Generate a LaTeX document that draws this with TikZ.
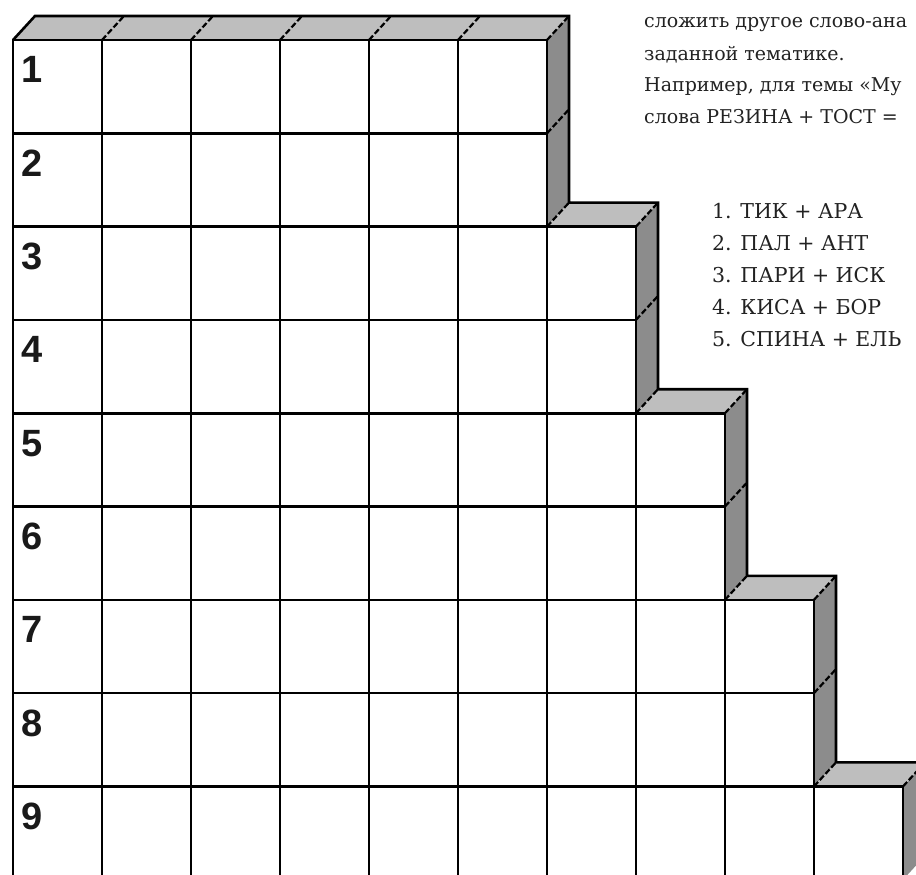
\documentclass[tikz,border=0pt]{standalone}
\usepackage{fontspec}
\setmainfont{DejaVu Serif}
\newfontfamily\digitfont{Liberation Sans}
\definecolor{sideC}{HTML}{8C8C8C}
\definecolor{topC}{HTML}{BEBEBE}
\definecolor{inkC}{HTML}{222222}
\tikzset{
  cellbox/.style={fill=white, draw=black, line width=2.6pt},
  sideface/.style={fill=sideC},
  topface/.style={fill=topC},
  dashedge/.style={draw=black, line width=2.2pt, dash pattern=on 6pt off 2.5pt},
  outline/.style={draw=black, line width=2.6pt, line join=miter},
  rownum/.style={font=\digitfont\bfseries\fontsize{38}{38}\selectfont, anchor=base west, inner sep=0pt, text=black!90},
  txt/.style={font=\fontsize{20.5}{20.5}\selectfont, anchor=base west, inner sep=0pt, text=inkC},
  toptxt/.style={font=\fontsize{19}{19}\selectfont, anchor=base west, inner sep=0pt, text=inkC},
}
\begin{document}
\begin{tikzpicture}[x=1pt,y=-1pt]
\useasboundingbox (0,0) rectangle (916,875);
\fill[white] (0,0) rectangle (916,875);
\clip (0,0) rectangle (916,875);

% side faces
\foreach \j/\n in {0/6,1/6,2/7,3/7,4/8,5/8,6/9,7/9,8/10}{
  \pgfmathsetmacro{\yT}{40+93.3*\j}
  \pgfmathsetmacro{\xR}{13+89*\n}
  \fill[sideface] (\xR,\yT) -- ++(22,-24) -- ++(0,93.3) -- ++(-22,24) -- cycle;
}
% top faces
\foreach \c in {0,...,5}{
  \fill[topface] ({13+89*\c},40) -- ++(22,-24) -- ++(89,0) -- ++(-22,24) -- cycle;
}
\foreach \j/\c in {2/6,4/7,6/8,8/9}{
  \pgfmathsetmacro{\yT}{40+93.3*\j}
  \fill[topface] ({13+89*\c},\yT) -- ++(22,-24) -- ++(89,0) -- ++(-22,24) -- cycle;
}
% dashed diagonal edges
\foreach \c in {1,...,6}{
  \draw[dashedge] ({13+89*\c},40) -- ++(22,-24);
}
\foreach \j/\c in {2/6,4/7,6/8,8/9}{
  \pgfmathsetmacro{\yT}{40+93.3*\j}
  \draw[dashedge] ({13+89*(\c+1)},\yT) -- ++(22,-24);
}
\foreach \j/\n in {0/6,1/6,2/7,3/7,4/8,5/8,6/9,7/9}{
  \pgfmathsetmacro{\yB}{40+93.3*(\j+1)}
  \pgfmathsetmacro{\xR}{13+89*\n}
  \draw[dashedge] (\xR,\yB) -- ++(22,-24);
}
% silhouette
\draw[outline] (13,40) -- (35,16) -- (569,16) -- (569,202.6) -- (658,202.6)
  -- (658,389.2) -- (747,389.2) -- (747,575.8) -- (836,575.8) -- (836,762.4)
  -- (925,762.4) -- (925,960);

% front cells
\foreach \j/\n in {0/6,1/6,2/7,3/7,4/8,5/8,6/9,7/9,8/10}{
  \pgfmathsetmacro{\yT}{40+93.3*\j}
  \foreach \c in {1,...,\n}{
    \draw[cellbox] ({13+89*(\c-1)},\yT) rectangle ++(89,93.3);
  }
}
% row numbers
\foreach \j in {1,...,9}{
  \pgfmathsetmacro{\yN}{40+93.3*(\j-1)+43}
  \node[rownum] (num\j) at (21,\yN) {\j};
}

% text
\node[toptxt] (t1) at (644,28) {сложить другое слово-ана};
\node[toptxt] (t2) at (644,60) {заданной тематике.};
\node[toptxt] (t3) at (644,92) {Например, для темы «Му};
\node[toptxt] (t4) at (644,124) {слова РЕЗИНА + ТОСТ =};

\node[txt] (l1) at (712,218) {1. ТИК + АРА};
\node[txt] (l2) at (712,250) {2. ПАЛ + АНТ};
\node[txt] (l3) at (712,282) {3. ПАРИ + ИСК};
\node[txt] (l4) at (712,314) {4. КИСА + БОР};
\node[txt] (l5) at (712,346) {5. СПИНА + ЕЛЬ};
\end{tikzpicture}
\end{document}
